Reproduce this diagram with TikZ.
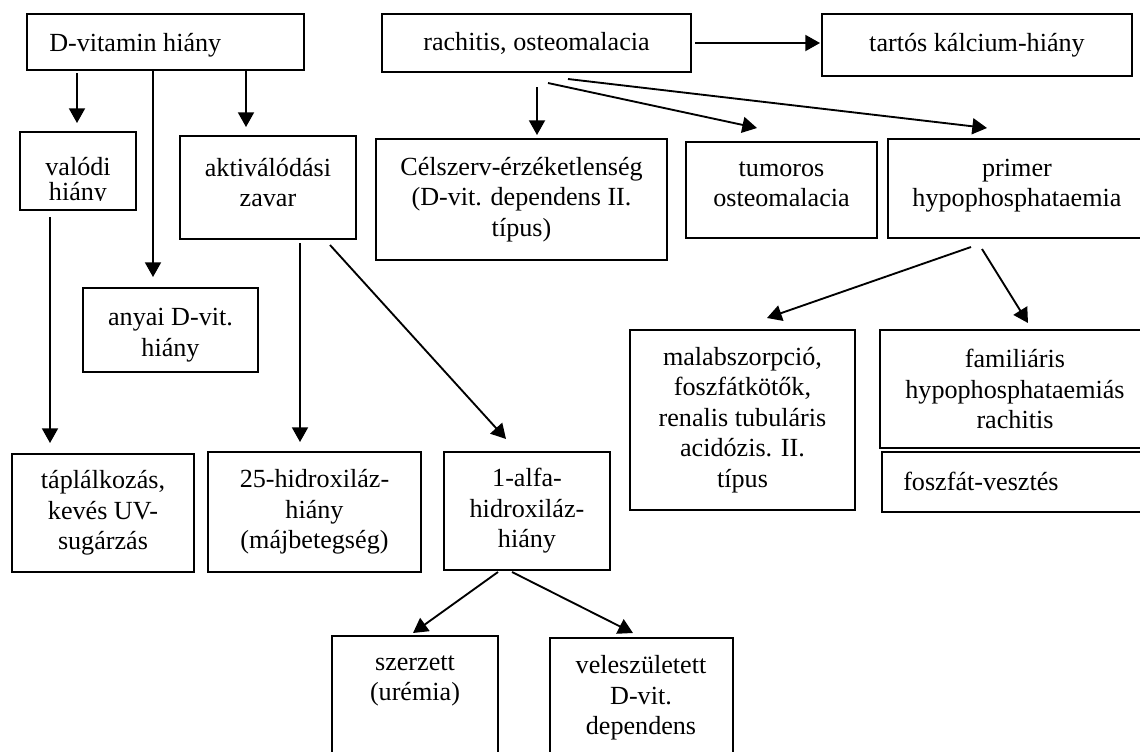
\documentclass[tikz,border=0pt]{standalone}
\usepackage{fontspec}
\setmainfont{Liberation Serif}
\usetikzlibrary{arrows.meta}
\begin{document}
\begin{tikzpicture}[x=0.75pt,y=-0.75pt,
  box/.style 2 args={draw,line width=1.4pt,inner sep=0pt,align=center,
    minimum width=#1*0.75pt,minimum height=#2*0.75pt,font=\fontsize{19.6}{22.8}\selectfont},
  txt/.style={inner sep=0pt,align=center,font=\fontsize{19.6}{22.8}\selectfont},
  arr/.style={line width=1.4pt,-{Triangle[length=11pt,width=12pt]}}]
\useasboundingbox (0,0) rectangle (1140,751);
\clip (0,0) rectangle (1140,751);
\fill[white] (0,0) rectangle (1140,751);
% boxes
\node[box={277}{56}] (dvit) at (165.5,42) {};
\node[txt,anchor=west] (dvitT) at (49,45) {D-vitamin hiány};
\node[box={309}{58}] (rach) at (536.5,43) {rachitis, osteomalacia};
\node[box={310}{62}] (tartos) at (977,45) {tartós kálcium-hiány};
\node[box={116}{78}] (valodi) at (78,171) {};
\begin{scope}
\clip (20,132) rectangle (136,200);
\node[txt,font=\fontsize{19.6}{18.5}\selectfont] (valodiT) at (78,182) {valódi\\hiány};
\end{scope}
\node[box={176}{103},label={[txt,yshift=3.75pt]center:{aktiválódási\\zavar}}] (aktiv) at (268,187.5) {};
\node[box={291}{121}] (celsz) at (521.5,199.5) {Célszerv-érzéketlenség\\(D-vit. dependens II.\\típus)};
\node[box={191}{96},label={[txt,yshift=4.5pt]center:{tumoros\\osteomalacia}}] (tumor) at (781.5,190) {};
\node[box={258}{99},label={[txt,yshift=2.25pt]center:{primer\\hypophosphataemia}}] (primer) at (1017,188.5) {};
\node[box={175}{84},label={[txt,yshift=-3.75pt]center:{anyai D-vit.\\hiány}}] (anyai) at (170.5,330) {};
\node[box={225}{180}] (malab) at (742.5,420) {malabszorpció,\\foszfátkötők,\\renalis tubuláris\\acidózis. II.\\típus};
\node[box={270}{118}] (famil) at (1015,389) {familiáris\\hypophosphataemiás\\rachitis};
\node[box={278}{60}] (foszf) at (1021,482) {};
\node[txt,anchor=west] (foszfT) at (903,481) {foszfát-vesztés};
\node[box={182}{118}] (taplal) at (103,513) {táplálkozás,\\kevés UV-\\sugárzás};
\node[box={213}{120}] (hidr) at (314.5,512) {25-hidroxiláz-\\hiány\\(májbetegség)};
\node[box={166}{118}] (alfa) at (527,511) {1-alfa-\\hidroxiláz-\\hiány};
\node[box={166}{154}] (szerz) at (415,713) {};
\node[txt] (szerzT) at (415,681) {szerzett\\(urémia)};
\node[box={183}{152}] (velesz) at (641.5,714) {};
\node[txt] (veleszT) at (641,698) {veleszületett\\D-vit.\\dependens};
% connector end points
\coordinate (a1s) at (77,73);   \coordinate (a1e) at (77,123);
\coordinate (a2s) at (153,70);  \coordinate (a2e) at (153,277);
\coordinate (a3s) at (246,70);  \coordinate (a3e) at (246,127);
\coordinate (a4s) at (50,217);  \coordinate (a4e) at (50,443);
\coordinate (a5s) at (300,243); \coordinate (a5e) at (300,442);
\coordinate (a6s) at (330,245); \coordinate (a6e) at (506,439);
\coordinate (a7s) at (498,572); \coordinate (a7e) at (413,633);
\coordinate (a8s) at (512,572); \coordinate (a8e) at (633,633);
\coordinate (a9s) at (695,43);  \coordinate (a9e) at (820,43);
\coordinate (b1s) at (537,87);  \coordinate (b1e) at (537,135);
\coordinate (b2s) at (548,83);  \coordinate (b2e) at (757,128);
\coordinate (b3s) at (568,79);  \coordinate (b3e) at (987,128);
\coordinate (b4s) at (971,247); \coordinate (b4e) at (767,318);
\coordinate (b5s) at (982,249); \coordinate (b5e) at (1028,323);
% connectors
\draw[arr] (a1s) -- (a1e);
\draw[arr] (a2s) -- (a2e);
\draw[arr] (a3s) -- (a3e);
\draw[arr] (a4s) -- (a4e);
\draw[arr] (a5s) -- (a5e);
\draw[arr] (a6s) -- (a6e);
\draw[arr] (a7s) -- (a7e);
\draw[arr] (a8s) -- (a8e);
\draw[arr] (a9s) -- (a9e);
\draw[arr] (b1s) -- (b1e);
\draw[arr] (b2s) -- (b2e);
\draw[arr] (b3s) -- (b3e);
\draw[arr] (b4s) -- (b4e);
\draw[arr] (b5s) -- (b5e);
\end{tikzpicture}
\end{document}
